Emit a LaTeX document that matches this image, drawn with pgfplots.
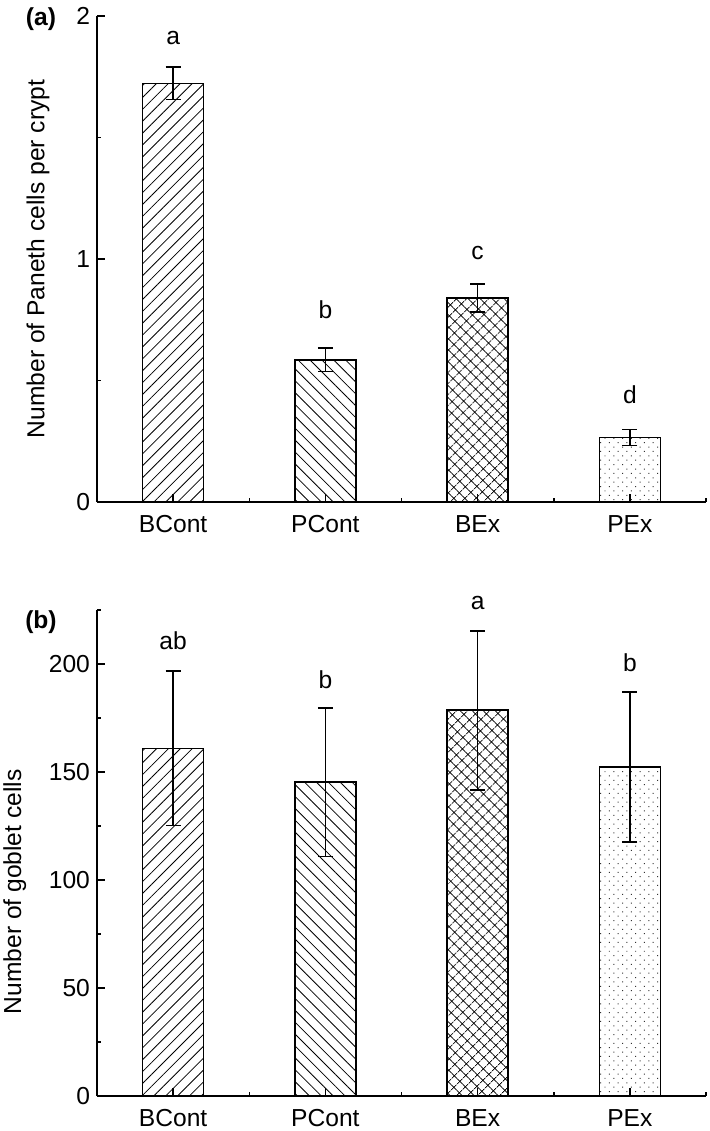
\documentclass[border=0pt]{standalone}
\usepackage{fontspec}
\setmainfont{Liberation Sans}
\usepackage{pgfplots}
\pgfplotsset{compat=1.18}
\usetikzlibrary{patterns.meta}

\newcommand{\lblfont}{\fontsize{12.3}{14}\selectfont}

\pgfplotsset{
  panel/.style={
    scale only axis, width=304.5pt, height=243pt,
    xmin=-0.5, xmax=3.5, ymin=0,
    axis x line*=bottom, axis y line*=left,
    tick align=inside,
    xtick={0,1,2,3}, xticklabels={BCont,PCont,BEx,PEx},
    minor xtick={0.5,1.5,2.5,3.5},
    major tick length=4pt, minor tick length=2pt,
    axis line style={line width=0.75pt, black},
    every tick/.style={line width=0.75pt, black},
    every minor tick/.style={line width=0.75pt, black},
    ticklabel style={font=\lblfont, black},
    xticklabel style={yshift=-3pt},
    /pgf/number format/assume math mode=true,
    label style={font=\lblfont},
    clip=false,
  },
  bbar/.style={ybar, bar shift=0pt, bar width=0.4, draw=black, line width=0.75pt,
    /pgfplots/error bars/y dir=both, /pgfplots/error bars/y explicit,
    /pgfplots/error bars/error bar style={line width=0.8pt, black},
    /pgfplots/error bars/error mark options={rotate=90, mark size=3.75pt, line width=0.8pt, black}},
}

\begin{document}
\begin{tikzpicture}
\useasboundingbox (0,0) rectangle (354.5pt,-565.5pt);

% ---------- panel (a)
\begin{axis}[panel, at={(48.5pt,-251pt)}, anchor=south west,
  ymax=2, ytick={0,1,2}, minor ytick={0.5,1.5},
  ylabel={Number of Paneth cells per crypt},
  ylabel style={at={(axis description cs:-0.097,0.5)}, anchor=center},
]
\addplot[bbar, pattern={Lines[angle=45,distance=4.2pt,line width=0.4pt]}, pattern color=black]
  coordinates {(0,1.723) +- (0,0.066)};
\addplot[bbar, pattern={Lines[angle=-45,distance=4.2pt,line width=0.4pt]}, pattern color=black]
  coordinates {(1,0.585) +- (0,0.048)};
\addplot[bbar, pattern={Hatch[angle=45,distance=4pt,line width=0.45pt]}, pattern color=black]
  coordinates {(2,0.840) +- (0,0.057)};
\addplot[bbar, pattern={Dots[angle=45,distance=3.1pt,radius=0.35pt]}, pattern color=black!80]
  coordinates {(3,0.266) +- (0,0.033)};
\node[font=\lblfont] at (axis cs:0,1.91) {a};
\node[font=\lblfont] at (axis cs:1,0.79) {b};
\node[font=\lblfont] at (axis cs:2,1.025) {c};
\node[font=\lblfont] at (axis cs:3,0.44) {d};
\node[font=\lblfont\bfseries] at (axis description cs:-0.092,0.993) {(a)};
\end{axis}

% ---------- panel (b)
\begin{axis}[panel, at={(48.5pt,-548pt)}, anchor=south west,
  ymax=225, ytick={0,50,100,150,200}, minor ytick={25,75,125,175,225},
  ylabel={Number of goblet cells},
  ylabel style={at={(axis description cs:-0.135,0.42)}, anchor=center},
]
\addplot[bbar, pattern={Lines[angle=45,distance=4.2pt,line width=0.4pt]}, pattern color=black]
  coordinates {(0,161.0) +- (0,35.7)};
\addplot[bbar, pattern={Lines[angle=-45,distance=4.2pt,line width=0.4pt]}, pattern color=black]
  coordinates {(1,145.3) +- (0,34.4)};
\addplot[bbar, pattern={Hatch[angle=45,distance=4pt,line width=0.45pt]}, pattern color=black]
  coordinates {(2,178.6) +- (0,36.8)};
\addplot[bbar, pattern={Dots[angle=45,distance=3.1pt,radius=0.35pt]}, pattern color=black!80]
  coordinates {(3,152.3) +- (0,34.7)};
\node[font=\lblfont] at (axis cs:0,210.6) {ab};
\node[font=\lblfont] at (axis cs:1,192.7) {b};
\node[font=\lblfont] at (axis cs:2,228.4) {a};
\node[font=\lblfont] at (axis cs:3,200.8) {b};
\node[font=\lblfont\bfseries] at (axis description cs:-0.092,0.975) {(b)};
\end{axis}
\end{tikzpicture}
\end{document}
